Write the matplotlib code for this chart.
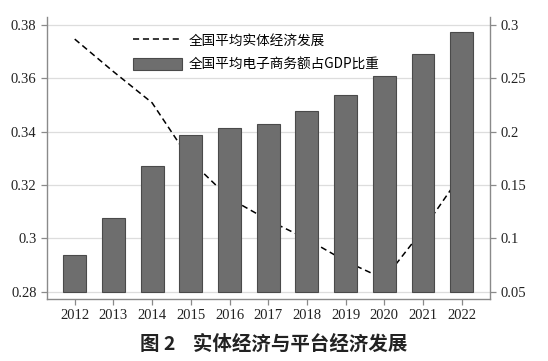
import numpy as np
import matplotlib
matplotlib.use("Agg")
import matplotlib.pyplot as plt

plt.rcParams['font.family'] = ['Liberation Serif', 'Noto Sans CJK SC', 'DejaVu Sans']

# data
years = [2012, 2013, 2014, 2015, 2016, 2017, 2018, 2019, 2020, 2021, 2022]
real_economy = [0.3747, 0.3625, 0.3508, 0.329, 0.315, 0.3068, 0.2997, 0.2914, 0.2847, 0.3032, 0.3241]
ecommerce_gdp = [0.0842, 0.1187, 0.168, 0.1968, 0.2031, 0.2071, 0.2196, 0.234, 0.2519, 0.2725, 0.2932]
left_ticks = [0.28, 0.30, 0.32, 0.34, 0.36, 0.38]
left_labels = ['0.28', '0.3', '0.32', '0.34', '0.36', '0.38']
right_ticks = [0.05, 0.10, 0.15, 0.20, 0.25, 0.30]
right_labels = ['0.05', '0.1', '0.15', '0.2', '0.25', '0.3']

fig = plt.figure(figsize=(5.48, 3.61), dpi=100)
ax = fig.add_axes([0.0858, 0.1717, 0.8082, 0.7813])
ax2 = ax.twinx()

x = np.arange(len(years))
line, = ax.plot(x, real_economy, color='black', linestyle=(0, (4, 2.5)), linewidth=1.1,
                label='全国平均实体经济发展')
ax.set_ylim(0.2772, 0.383)
ax.set_yticks(left_ticks)
ax.set_yticklabels(left_labels)
ax.grid(axis='y', color='#dddddd', linewidth=0.9)
ax.set_axisbelow(True)

bars = ax2.bar(x, np.array(ecommerce_gdp) - 0.05, bottom=0.05, width=0.59,
               color='#6e6e6e', edgecolor='#4a4a4a', linewidth=0.8,
               label='全国平均电子商务额占GDP比重')
ax2.set_ylim(0.05 + (0.2772 - 0.28) * 2.5, 0.05 + (0.383 - 0.28) * 2.5)
ax2.set_yticks(right_ticks)
ax2.set_yticklabels(right_labels)

ax.set_xlim(-0.716, 10.73)
ax.set_xticks(x)
ax.set_xticklabels([str(y) for y in years])

for a in (ax, ax2):
    a.spines['top'].set_visible(False)
    for s in ('left', 'right', 'bottom'):
        a.spines[s].set_color('#8a8a8a')
        a.spines[s].set_linewidth(1.0)
    a.tick_params(labelsize=10.5, colors='#222222', length=4, width=0.9)
    a.tick_params(color='#8a8a8a')
ax.spines['right'].set_visible(False)
ax2.spines['left'].set_visible(False)
ax2.spines['bottom'].set_visible(False)

leg = ax2.legend([line, bars], [line.get_label(), bars.get_label()],
                 loc='upper left', bbox_to_anchor=(0.166, 0.985), frameon=False,
                 prop={'family': ['Noto Sans CJK SC'], 'size': 9.8},
                 handlelength=3.6, handleheight=1.0, labelspacing=0.75, handletextpad=0.5)

fig.text(0.5, 0.045, '图 2    实体经济与平台经济发展', ha='center', va='center',
         fontsize=14, fontweight='bold', family=['Noto Sans CJK SC'], color='#222222')

fig.savefig('out.png', dpi=100)
